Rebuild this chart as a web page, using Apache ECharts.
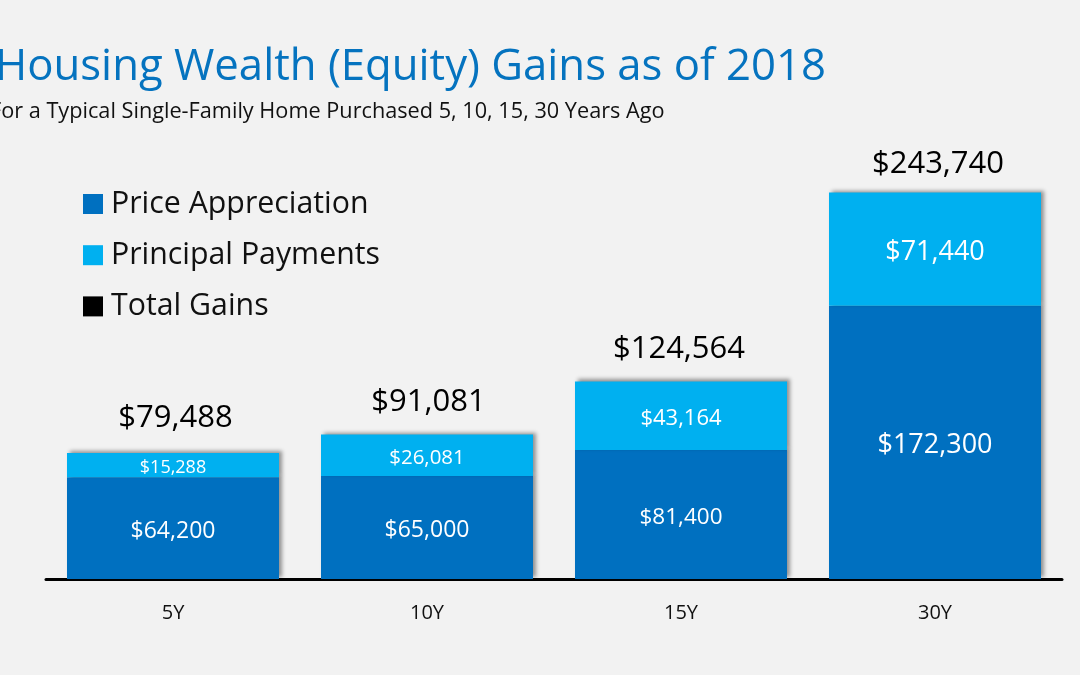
<!DOCTYPE html>
<html>
<head>
<meta charset="utf-8">
<script src="https://cdn.jsdelivr.net/npm/echarts@6/dist/echarts.min.js"></script>
<style>
html,body{margin:0;padding:0;background:#f2f2f2;}
#chart{width:1080px;height:675px;}
</style>
</head>
<body>
<div id="chart"></div>
<script>
var categories = ['5Y', '10Y', '15Y', '30Y'];
var appreciation = [64200, 65000, 81400, 172300];
var principal = [15288, 26081, 43164, 71440];
var totals = [79488, 91081, 124564, 243740];

// label sizes differ bar by bar in the original slide
var appreciationFont = [23, 23, 22.5, 27];
var principalFont = [18, 20.5, 22, 27];
var totalDx = [2.5, 1.5, -2, 3];
var totalDy = [-9, -7, -7, -3];

function money(v) {
    return '$' + v.toLocaleString('en-US');
}

var font = 'Open Sans';
var barShadow = {shadowColor: 'rgba(0,0,0,0.4)', shadowBlur: 4, shadowOffsetX: 3, shadowOffsetY: -2};
var myChart = echarts.init(document.getElementById('chart'));

var option = {
    backgroundColor: '#f2f2f2',
    animation: false,
    textStyle: {fontFamily: font},
    title: [
        {
            text: 'Housing Wealth (Equity) Gains as of 2018',
            left: -10, top: 41,
            textStyle: {fontFamily: font, fontSize: 43.7, fontWeight: 'normal', color: '#0573bf'}
        },
        {
            text: 'For a Typical Single-Family Home Purchased 5, 10, 15, 30 Years Ago',
            left: -15, top: 96,
            textStyle: {fontFamily: font, fontSize: 21.7, fontWeight: 'normal', color: '#111'}
        }
    ],
    legend: {
        left: 78, top: 184,
        orient: 'vertical',
        itemWidth: 20, itemHeight: 20,
        itemGap: 21.2,
        textStyle: {fontSize: 30.3, color: '#111', fontFamily: font, padding: [0, 0, 0, 3]},
        data: [
            {name: 'Price Appreciation', icon: 'rect'},
            {name: 'Principal Payments', icon: 'rect'},
            {name: 'Total Gains', icon: 'rect'}
        ]
    },
    grid: {left: 46, right: 18, top: 192.5, bottom: 96},
    xAxis: {
        type: 'category',
        data: categories,
        axisLine: {lineStyle: {color: '#000', width: 3}},
        axisTick: {show: false},
        axisLabel: {fontSize: 20, color: '#111', margin: 24}
    },
    yAxis: {type: 'value', min: 0, max: 243740, show: false},
    series: [
        {
            name: 'Price Appreciation',
            type: 'bar',
            stack: 'gains',
            barWidth: 212,
            data: appreciation,
            itemStyle: Object.assign({color: '#0070c0'}, barShadow),
            label: {
                show: true, position: 'inside', color: '#fff',
                formatter: function (p) { return money(p.value); }
            },
            labelLayout: function (p) {
                return {fontSize: appreciationFont[p.dataIndex], dy: 3};
            }
        },
        {
            name: 'Principal Payments',
            type: 'bar',
            stack: 'gains',
            data: principal,
            itemStyle: Object.assign({color: '#00b0f0'}, barShadow),
            label: {
                show: true, position: 'inside', color: '#fff',
                formatter: function (p) { return money(p.value); }
            },
            labelLayout: function (p) {
                return {fontSize: principalFont[p.dataIndex], dy: 3};
            }
        },
        {
            name: 'Total Gains',
            type: 'line',
            data: totals,
            itemStyle: {color: '#000'},
            lineStyle: {opacity: 0},
            symbolSize: 0,
            label: {
                show: true, position: 'top', distance: 10, color: '#000', fontSize: 31,
                formatter: function (p) { return money(p.value); }
            },
            labelLayout: function (p) {
                return {dx: totalDx[p.dataIndex], dy: totalDy[p.dataIndex]};
            }
        }
    ]
};

myChart.setOption(option);
</script>
</body>
</html>
